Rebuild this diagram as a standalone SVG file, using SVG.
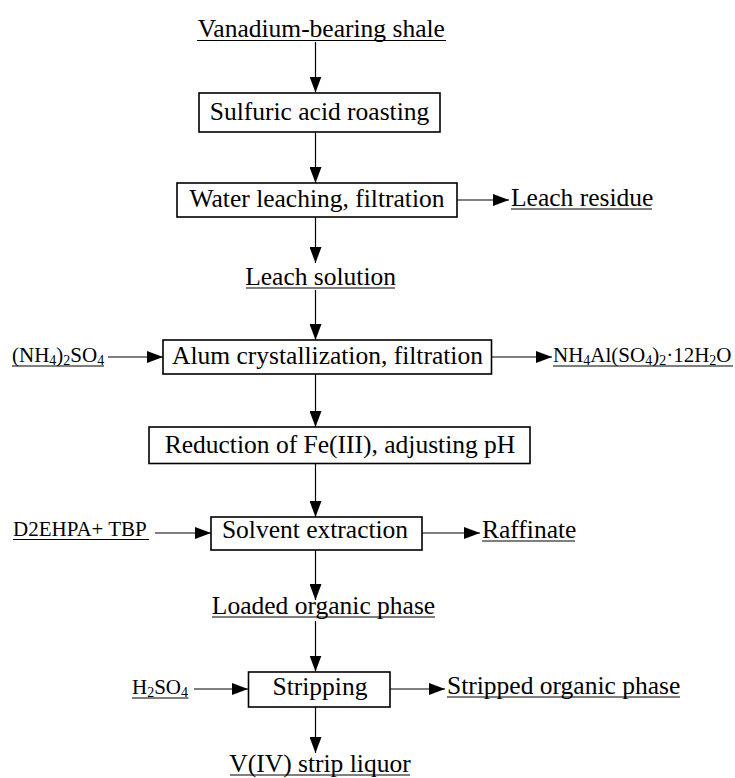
<svg xmlns="http://www.w3.org/2000/svg" width="735" height="778" viewBox="0 0 735 778">
<style>
text{font-family:"Liberation Serif","Times New Roman",serif;fill:#000}
.t{font-size:25.5px}
.f{font-size:21px}
.s{font-size:14px}
.box{fill:#fff;stroke:#000;stroke-width:1.6}
.ul{stroke:#000;stroke-width:1.2}
.c{stroke:#000;stroke-width:1.2;fill:none;marker-end:url(#ah)}
</style>
<defs>
<marker id="ah" markerUnits="userSpaceOnUse" markerWidth="16" markerHeight="12" refX="16" refY="6" orient="auto">
<path d="M0,0 L16,6 L0,12 z" fill="#000"/>
</marker>
</defs>
<rect width="735" height="778" fill="#fff"/>
<g id="connectors">
<line class="c" x1="315.5" y1="42" x2="315.5" y2="92.5"/>
<line class="c" x1="315.5" y1="132.5" x2="315.5" y2="183"/>
<line class="c" x1="315.5" y1="217" x2="315.5" y2="263"/>
<line class="c" x1="315.5" y1="290" x2="315.5" y2="340"/>
<line class="c" x1="315.5" y1="374" x2="315.5" y2="427"/>
<line class="c" x1="315.5" y1="463.5" x2="315.5" y2="517"/>
<line class="c" x1="315.5" y1="550" x2="315.5" y2="600"/>
<line class="c" x1="315.5" y1="621" x2="315.5" y2="671.5"/>
<line class="c" x1="315.5" y1="707" x2="315.5" y2="753"/>
<line class="c" x1="457" y1="200" x2="509" y2="200"/>
<line class="c" x1="108" y1="357" x2="163" y2="357"/>
<line class="c" x1="492" y1="357" x2="552" y2="357"/>
<line class="c" x1="155" y1="533" x2="211" y2="533"/>
<line class="c" x1="422" y1="533" x2="480" y2="533"/>
<line class="c" x1="194" y1="689" x2="248" y2="689"/>
<line class="c" x1="390" y1="689" x2="445" y2="689"/>
</g>
<g id="shale">
<text class="t" x="321.3" y="37" text-anchor="middle">Vanadium-bearing shale</text>
<line class="ul" x1="197" y1="40.5" x2="446" y2="40.5"/>
</g>
<g id="roasting">
<rect class="box" x="199" y="93" width="241" height="39"/>
<text class="t" x="319.5" y="120" text-anchor="middle">Sulfuric acid roasting</text>
</g>
<g id="leaching">
<rect class="box" x="177" y="183" width="280" height="34"/>
<text class="t" x="317" y="207" text-anchor="middle">Water leaching, filtration</text>
</g>
<g id="residue">
<text class="t" x="511" y="206">Leach residue</text>
<line class="ul" x1="511" y1="209" x2="652" y2="209"/>
</g>
<g id="solution">
<text class="t" x="320.6" y="285" text-anchor="middle">Leach solution</text>
<line class="ul" x1="246" y1="288" x2="395" y2="288"/>
</g>
<g id="ammsulf">
<text class="f" x="12" y="362">(NH<tspan class="s" dy="3">4</tspan><tspan dy="-3">)</tspan><tspan class="s" dy="3">2</tspan><tspan dy="-3">SO</tspan><tspan class="s" dy="3">4</tspan></text>
<line class="ul" x1="12" y1="366" x2="104" y2="366"/>
</g>
<g id="alum">
<rect class="box" x="163" y="340" width="328.5" height="34"/>
<text class="t" x="327.5" y="364" text-anchor="middle">Alum crystallization, filtration</text>
</g>
<g id="alumproduct">
<text class="f" x="553" y="362">NH<tspan class="s" dy="3">4</tspan><tspan dy="-3">Al(SO</tspan><tspan class="s" dy="3">4</tspan><tspan dy="-3">)</tspan><tspan class="s" dy="3">2</tspan><tspan dy="-3">·12H</tspan><tspan class="s" dy="3">2</tspan><tspan dy="-3">O</tspan></text>
<line class="ul" x1="553" y1="366" x2="733" y2="366"/>
</g>
<g id="reduction">
<rect class="box" x="149" y="427" width="381" height="36.5"/>
<text class="t" x="340" y="453" text-anchor="middle">Reduction of Fe(III), adjusting pH</text>
</g>
<g id="extractant">
<text class="f" x="13" y="536">D2EHPA+ TBP</text>
<line class="ul" x1="13" y1="539.5" x2="149" y2="539.5"/>
</g>
<g id="extraction">
<rect class="box" x="211" y="517" width="211" height="33"/>
<text class="t" x="315" y="538" text-anchor="middle">Solvent extraction</text>
</g>
<g id="raffinate">
<text class="t" x="482" y="538">Raffinate</text>
<line class="ul" x1="482" y1="541" x2="575" y2="541"/>
</g>
<g id="loaded">
<text class="t" x="323.5" y="614" text-anchor="middle">Loaded organic phase</text>
<line class="ul" x1="212" y1="617" x2="435" y2="617"/>
</g>
<g id="acid">
<text class="f" x="132" y="694">H<tspan class="s" dy="3">2</tspan><tspan dy="-3">SO</tspan><tspan class="s" dy="3">4</tspan></text>
<line class="ul" x1="132" y1="698" x2="188.5" y2="698"/>
</g>
<g id="stripping">
<rect class="box" x="248.5" y="672" width="141.5" height="35"/>
<text class="t" x="320" y="695" text-anchor="middle">Stripping</text>
</g>
<g id="stripped">
<text class="t" x="447" y="694">Stripped organic phase</text>
<line class="ul" x1="447" y1="697" x2="680" y2="697"/>
</g>
<g id="liquor">
<text class="t" x="320" y="772" text-anchor="middle">V(IV) strip liquor</text>
<line class="ul" x1="230" y1="775" x2="410" y2="775"/>
</g>
</svg>
